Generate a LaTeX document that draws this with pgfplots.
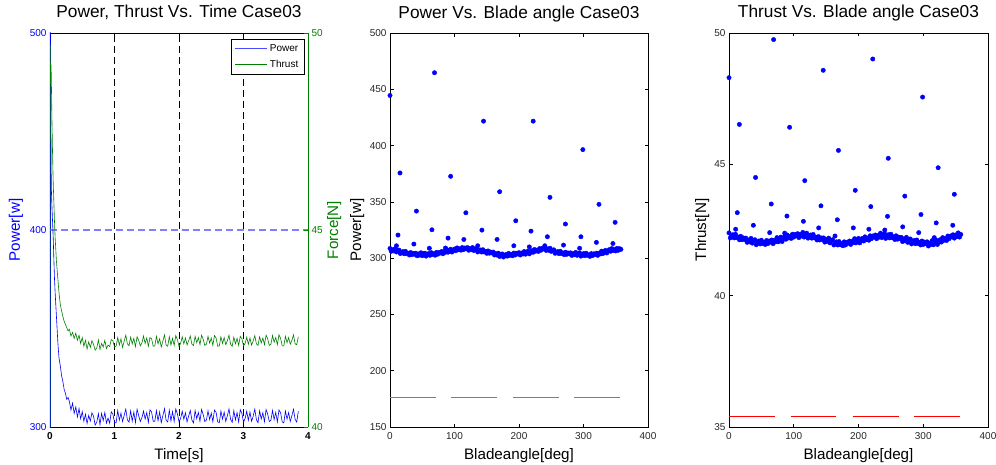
\documentclass[border=0pt]{standalone}
\usepackage{pgfplots}
\pgfplotsset{compat=1.18}
\usepackage{pgfplotstable}
\usepackage{fontspec}
\setmainfont{Liberation Sans}

\definecolor{mblue}{rgb}{0,0,1}
\definecolor{mgreen}{rgb}{0,0.5,0}
\definecolor{tickgray}{rgb}{0.15,0.15,0.15}
\definecolor{mred}{rgb}{1,0,0}
\definecolor{lred}{rgb}{0.95,0.3,0.3}
\definecolor{lblue}{rgb}{0.5,0.5,1}

\newcommand{\titlefont}{\fontsize{17.3}{20}\selectfont}
\newcommand{\labelfont}{\fontsize{15.2}{18}\selectfont}
\newcommand{\tickfont}{\fontsize{10}{12}\selectfont}

% time series: t, power, thrust
\pgfplotstableread{
t P F
0.000 250 39
0.004 520 49.7
0.008 480 49.1
0.012 460 48.7
0.016 440 49.2
0.020 422 48.9
0.030 412 47.8
0.040 404 46.9
0.050 396 46.2
0.060 385 45.7
0.070 375 45.2
0.080 368 44.8
0.090 362 44.5
0.100 356 44.2
0.110 350 44.0
0.120 344 43.8
0.130 339 43.6
0.140 335 43.4
0.150 333 43.25
0.160 331 43.10
0.180 326 42.95
0.200 323 42.80
0.220 319 42.68
0.240 317 42.60
0.260 314 42.52
0.280 315 42.44
0.300 313.0 42.48
0.325 308.6 42.31
0.350 312.1 42.40
0.375 306.9 42.25
0.400 310.2 42.38
0.425 305.1 42.20
0.450 309.4 42.33
0.475 304.2 42.12
0.500 307.8 42.27
0.525 302.9 42.05
0.550 306.5 42.20
0.575 301.8 41.98
0.600 305.9 42.16
0.625 303.0 42.02
0.650 307.2 42.19
0.675 305.5 42.10
0.700 301.0 41.95
0.725 302.4 42.00
0.750 306.8 42.21
0.775 301.2 41.97
0.800 306.9 42.12
0.825 303.3 42.03
0.850 307.4 42.20
0.875 302.0 41.99
0.900 304.5 42.08
0.925 301.9 42.04
0.950 307.7 42.22
0.975 306.6 42.19
1.000 302.3 42.03
1.025 302.1 42.05
1.050 308.4 42.27
1.075 303.5 42.08
1.100 307.0 42.24
1.125 302.8 42.02
1.150 305.9 42.18
1.175 309.1 42.33
1.200 303.6 42.11
1.225 302.5 42.06
1.250 308.2 42.28
1.275 303.0 42.11
1.300 307.5 42.25
1.325 302.3 42.04
1.350 309.0 42.29
1.375 305.8 42.20
1.400 302.8 42.06
1.425 304.7 42.13
1.450 308.1 42.31
1.475 304.0 42.12
1.500 307.3 42.26
1.525 302.4 42.05
1.550 308.7 42.27
1.575 307.6 42.24
1.600 302.9 42.05
1.625 302.9 42.06
1.650 308.3 42.30
1.675 303.2 42.11
1.700 307.6 42.24
1.725 302.2 42.03
1.750 305.8 42.18
1.775 309.3 42.34
1.800 303.4 42.08
1.825 302.6 42.05
1.850 308.5 42.29
1.875 303.1 42.08
1.900 307.8 42.25
1.925 302.8 42.07
1.950 309.2 42.32
1.975 306.7 42.22
2.000 302.7 42.05
2.025 304.3 42.12
2.050 308.0 42.29
2.075 303.9 42.11
2.100 307.2 42.26
2.125 302.6 42.08
2.150 305.6 42.19
2.175 308.4 42.31
2.200 303.5 42.10
2.225 302.1 42.07
2.250 308.4 42.30
2.275 304.2 42.14
2.300 307.4 42.27
2.325 302.9 42.09
2.350 308.9 42.33
2.375 306.3 42.23
2.400 302.8 42.07
2.425 303.5 42.10
2.450 308.2 42.30
2.475 303.8 42.13
2.500 307.1 42.26
2.525 302.7 42.07
2.550 308.6 42.32
2.575 307.5 42.26
2.600 302.6 42.05
2.625 302.2 42.06
2.650 308.1 42.29
2.675 304.0 42.12
2.700 307.5 42.27
2.725 302.8 42.09
2.750 305.7 42.19
2.775 309.2 42.33
2.800 303.9 42.10
2.825 302.4 42.05
2.850 308.3 42.28
2.875 303.6 42.11
2.900 307.3 42.25
2.925 302.6 42.07
2.950 308.8 42.30
2.975 306.9 42.24
3.000 302.5 42.06
3.025 304.3 42.12
3.050 308.0 42.28
3.075 303.4 42.10
3.100 307.6 42.26
3.125 302.9 42.08
3.150 305.5 42.18
3.175 309.1 42.32
3.200 303.7 42.11
3.225 302.2 42.07
3.250 308.2 42.29
3.275 304.1 42.13
3.300 307.2 42.26
3.325 302.7 42.09
3.350 308.9 42.33
3.375 306.5 42.24
3.400 302.8 42.07
3.425 303.4 42.10
3.450 308.4 42.32
3.475 303.8 42.15
3.500 307.4 42.27
3.525 302.6 42.09
3.550 308.6 42.34
3.575 307.3 42.25
3.600 302.6 42.06
3.625 302.1 42.06
3.650 308.1 42.30
3.675 304.0 42.14
3.700 307.3 42.27
3.725 302.8 42.10
3.750 305.7 42.20
3.775 309.0 42.34
3.800 303.9 42.11
3.825 302.5 42.09
3.850 308.0 42.29
}\timedata

% steady samples against blade angle: a, power, thrust
\pgfplotstableread{
a P T
0 308.6 42.39
2 306.1 42.20
4 307.5 42.27
6 306.4 42.32
8 308.2 42.20
10 305.5 42.34
12 306.7 42.21
14 307.1 42.23
16 304.1 42.13
18 305.0 42.26
20 305.8 42.13
22 303.9 42.20
24 306.0 42.14
26 304.0 42.19
28 304.4 42.03
30 302.8 42.12
32 305.0 42.05
34 303.1 42.18
36 304.3 42.00
38 303.5 42.09
40 304.4 42.13
42 302.1 41.94
44 303.7 42.02
46 302.7 42.08
48 304.8 41.97
50 302.2 42.11
52 303.7 41.99
54 304.4 42.03
56 301.8 41.95
58 303.0 42.10
60 304.1 41.98
62 302.5 42.08
64 304.9 42.04
66 303.2 42.12
68 303.9 41.98
70 302.6 42.10
72 305.1 42.05
74 303.5 42.21
76 305.1 42.05
78 304.6 42.17
80 305.9 42.23
82 303.9 42.06
84 305.8 42.16
86 305.2 42.24
88 307.5 42.15
90 305.3 42.31
92 307.0 42.20
94 307.9 42.25
96 305.4 42.18
98 306.8 42.34
100 308.1 42.23
102 306.6 42.33
104 309.1 42.28
106 307.5 42.36
108 308.3 42.21
110 307.1 42.33
112 309.4 42.27
114 307.6 42.41
116 309.0 42.23
118 308.3 42.33
120 309.4 42.38
122 307.0 42.19
124 308.5 42.26
126 307.5 42.31
128 309.4 42.19
130 306.8 42.33
132 308.0 42.20
134 308.5 42.22
136 305.5 42.12
138 306.5 42.25
140 307.3 42.12
142 305.4 42.20
144 307.5 42.14
146 305.5 42.20
148 305.9 42.04
150 304.3 42.14
152 306.4 42.07
154 304.4 42.19
156 305.5 42.01
158 304.6 42.09
160 305.4 42.13
162 302.8 41.93
164 304.0 42.00
166 302.7 42.05
168 304.4 41.93
170 301.5 42.06
172 303.0 41.94
174 303.7 41.98
176 301.0 41.90
178 302.2 42.05
180 303.3 41.93
182 301.8 42.03
184 304.2 42.00
186 302.5 42.08
188 303.3 41.95
190 302.1 42.07
192 304.5 42.02
194 302.8 42.17
196 304.3 42.01
198 303.7 42.12
200 304.9 42.18
202 302.8 42.01
204 304.5 42.10
206 303.7 42.18
208 305.9 42.08
210 303.5 42.24
212 305.2 42.13
214 306.2 42.19
216 303.8 42.11
218 305.2 42.28
220 306.6 42.17
222 305.2 42.27
224 307.7 42.23
226 306.2 42.31
228 307.1 42.17
230 306.0 42.29
232 308.5 42.23
234 307.0 42.38
236 308.6 42.21
238 308.1 42.32
240 309.4 42.37
242 306.9 42.18
244 308.2 42.25
246 307.0 42.32
248 308.8 42.20
250 306.0 42.34
252 307.1 42.21
254 307.4 42.24
256 304.3 42.14
258 305.1 42.28
260 305.8 42.15
262 304.0 42.23
264 306.1 42.17
266 304.1 42.22
268 304.6 42.06
270 303.1 42.16
272 305.3 42.09
274 303.4 42.22
276 304.6 42.03
278 303.8 42.12
280 304.7 42.16
282 302.4 41.97
284 304.0 42.04
286 303.0 42.10
288 305.1 41.98
290 302.5 42.12
292 303.9 41.99
294 304.6 42.03
296 301.8 41.93
298 303.0 42.08
300 304.0 41.95
302 302.2 42.04
304 304.4 41.98
306 302.5 42.05
308 303.0 41.89
310 301.6 42.00
312 304.0 41.95
314 302.3 42.10
316 303.8 41.94
318 303.2 42.05
320 304.4 42.11
322 302.5 41.95
324 304.4 42.05
326 303.8 42.13
328 306.2 42.04
330 304.0 42.21
332 305.8 42.11
334 306.9 42.17
336 304.6 42.10
338 306.1 42.27
340 307.6 42.17
342 306.1 42.27
344 308.5 42.24
346 306.8 42.32
348 307.6 42.19
350 306.4 42.31
352 308.7 42.25
354 307.0 42.39
356 308.4 42.23
358 307.8 42.33
}\bladedata

% transient samples, power against blade angle
\pgfplotstableread{
a P
0 444.5
69 464.7
15.5 375.7
145 421.7
222 421.7
94 372.7
41 341.8
170 359.0
248 354.0
299 396.4
117.6 340.3
195 333.2
324 347.8
349 331.8
272 330.3
12.4 320.5
65 325.2
142.5 324.9
218.6 324.0
244 319.0
296 319.0
90 317.8
114.5 316.6
166 316.6
37 312.5
192 311.0
269 311.6
136 311.0
320 314.0
345.6 313.0
86 309.0
61 308.8
10 311.0
216 310.0
240 311.0
294 308.8
}\outP

% transient samples, thrust against blade angle
\pgfplotstableread{
a T
0 48.30
68.9 49.75
16 46.52
145.5 48.58
222 49.01
93.6 46.41
169 45.53
246 45.23
299 47.56
41 44.50
117 44.38
195 44.01
271.5 43.79
323 44.87
348 43.86
12.8 43.16
65.3 43.49
89.5 43.03
142 43.42
167.3 42.89
219 43.39
244.8 43.02
296.5 43.09
320 42.77
345.6 42.68
10.3 42.53
37.6 42.68
62.8 42.40
86 42.38
114.9 42.83
138.5 42.58
192 42.58
216 42.53
240.6 42.50
268.3 42.62
293 42.40
163.7 42.27
317 42.21
}\outT

\pgfplotsset{
  mlab/.style={
    scale only axis, width=258pt, height=394pt, anchor=south west,
    /pgf/number format/assume math mode=true,
    tick label style={font=\tickfont},
    title style={font=\titlefont, at={(0.5,1)}, anchor=base, yshift=9pt},
    every axis x label/.style={at={(0.5,0)}, yshift=-32pt, anchor=base, font=\labelfont},
    xticklabel style={anchor=base, yshift=-12pt},
    major tick length=3.5pt,
    axis line style={line width=0.7pt},
    every tick/.style={line width=0.6pt},
    tick align=inside,
    scaled ticks=false,
  },
  ylab/.style={every axis y label/.style={at={(0,0.5)}, xshift=#1, rotate=90, anchor=base, font=\labelfont}},
  dots/.style={only marks, mark=*, mark size=2.2pt, mblue, mark options={fill=mblue, draw=mblue}},
}

\begin{document}
\begin{tikzpicture}
\useasboundingbox (0pt,0pt) rectangle (996pt,464pt);

% --- left: power and thrust against time ---
\begin{axis}[mlab, at={(50pt,37pt)},
  xmin=0, xmax=4, ymin=300, ymax=500,
  xtick={0,1,2,3,4}, ytick={300,400,500},
  axis y line*=left,
  y axis line style={mblue},
  ytick style={mblue}, yticklabel style={mblue},
  xticklabel style={black, font=\tickfont\bfseries},
  unbounded coords=jump,
  title={Power, Thrust Vs. Time Case03},
  xlabel={Time[s]},
  ylab=-30pt, ylabel={\color{mblue}Power[w]},
]
\addplot[black, line width=0.6pt, dash pattern=on 7pt off 4pt] coordinates {
  (1,300) (1,500) (1,nan) (2,300) (2,500) (2,nan) (3,300) (3,500)
};
\addplot[lblue, line width=1.1pt, dash pattern=on 7pt off 4pt] coordinates {(0,400) (4,400)};
\addplot[mblue, line width=0.6pt] table[x=t, y=P] {\timedata};
\end{axis}
\begin{axis}[mlab, at={(50pt,37pt)},
  xmin=0, xmax=4, ymin=40, ymax=50,
  ytick={40,45,50},
  axis y line*=right, axis x line=none,
  y axis line style={mgreen},
  ytick style={mgreen}, yticklabel style={mgreen},
  every axis y label/.style={at={(1,0.5)}, xshift=30pt, rotate=90, anchor=base, font=\labelfont},
  ylabel={\color{mgreen}Force[N]},
  legend style={at={(1,1)}, anchor=north east, xshift=-4pt, yshift=-6pt,
    font=\fontsize{10}{12}\selectfont, row sep=3pt,
    inner sep=3.5pt, cells={anchor=west}},
]
\addlegendimage{legend image code/.code={\draw[lblue!60!mblue, line width=1pt] (0pt,0pt) -- (32pt,0pt);}}
\addlegendentry{Power}
\addplot[mgreen, line width=0.6pt,
  legend image code/.code={\draw[mgreen, line width=0.9pt] (0pt,0pt) -- (32pt,0pt);}]
  table[x=t, y=F] {\timedata};
\addlegendentry{Thrust}
\end{axis}

% --- middle: power against blade angle ---
\begin{axis}[mlab, at={(390pt,37pt)},
  xmin=0, xmax=400, ymin=150, ymax=500,
  xtick={0,100,200,300,400}, ytick={150,200,...,500},
  tick label style={tickgray},
  title={Power Vs. Blade angle Case03},
  xlabel={Bladeangle[deg]},
  ylab=-29pt, ylabel={Power[w]},
]
\addplot[dots] table[x=a, y=P] {\bladedata};
\addplot[dots] table[x=a, y=P] {\outP};
\addplot[lred, line width=1pt, unbounded coords=jump] coordinates {
  (0,176.4) (71,176.4) (71,nan)
  (95,176.4) (166,176.4) (166,nan)
  (191,176.4) (262,176.4) (262,nan)
  (286,176.4) (357,176.4)
};
\end{axis}

% --- right: thrust against blade angle ---
\begin{axis}[mlab, at={(729pt,37pt)}, width=259pt,
  xmin=0, xmax=400, ymin=35, ymax=50,
  xtick={0,100,200,300,400}, ytick={35,40,45,50},
  tick label style={tickgray},
  title={Thrust Vs. Blade angle Case03},
  xlabel={Bladeangle[deg]},
  ylab=-23pt, ylabel={Thrust[N]},
]
\addplot[dots] table[x=a, y=T] {\bladedata};
\addplot[dots] table[x=a, y=T] {\outT};
\addplot[mred, line width=0.8pt, unbounded coords=jump] coordinates {
  (0,35.42) (71,35.42) (71,nan)
  (95,35.42) (166,35.42) (166,nan)
  (191,35.42) (262,35.42) (262,nan)
  (286,35.42) (356,35.42)
};
\end{axis}
\end{tikzpicture}
\end{document}
